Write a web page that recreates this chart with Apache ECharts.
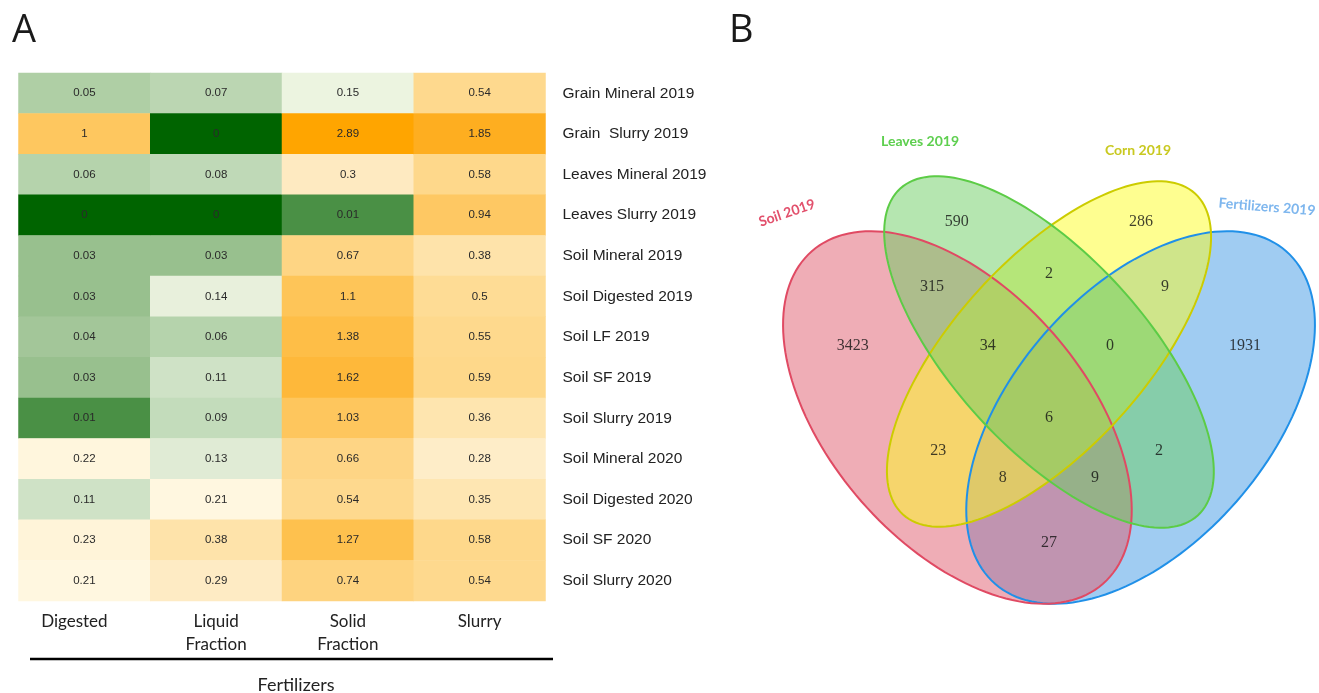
<!DOCTYPE html>
<html>
<head>
<meta charset="utf-8">
<script src="https://cdn.jsdelivr.net/npm/echarts@6/dist/echarts.min.js"></script>
<style>
  html, body { margin: 0; padding: 0; background: #fff; }
  #chart { width: 1319px; height: 693px; }
</style>
</head>
<body>
<div id="chart"></div>
<script>
// ---- Panel A: heatmap data ----
const samples = [
  'Grain Mineral 2019', 'Grain  Slurry 2019', 'Leaves Mineral 2019', 'Leaves Slurry 2019',
  'Soil Mineral 2019', 'Soil Digested 2019', 'Soil LF 2019', 'Soil SF 2019', 'Soil Slurry 2019',
  'Soil Mineral 2020', 'Soil Digested 2020', 'Soil SF 2020', 'Soil Slurry 2020'
];
const fertilizers = ['Digested', 'Liquid\nFraction', 'Solid\nFraction', 'Slurry'];
const digested       = [0.05, 1, 0.06, 0, 0.03, 0.03, 0.04, 0.03, 0.01, 0.22, 0.11, 0.23, 0.21];
const liquidFraction = [0.07, 0, 0.08, 0, 0.03, 0.14, 0.06, 0.11, 0.09, 0.13, 0.21, 0.38, 0.29];
const solidFraction  = [0.15, 2.89, 0.3, 0.01, 0.67, 1.1, 1.38, 1.62, 1.03, 0.66, 0.54, 1.27, 0.74];
const slurry         = [0.54, 1.85, 0.58, 0.94, 0.38, 0.5, 0.55, 0.59, 0.36, 0.28, 0.35, 0.58, 0.54];

// ---- Panel B: Venn data ----
const vennSets = ['Soil 2019', 'Leaves 2019', 'Corn 2019', 'Fertilizers 2019'];
// region counts, in the same order as vennLabelAt below
const vennCounts = [590, 286, 315, 2, 9, 3423, 34, 0, 1931, 6, 23, 2, 8, 9, 27];

// ---- colour scale (value stops -> colours), green (low) to orange (high) ----
const scaleStops  = [0, 0.01, 0.03, 0.04, 0.05, 0.07, 0.09, 0.11, 0.14, 0.15, 0.21, 0.29, 0.37, 0.54, 0.59, 0.67, 0.74, 0.94, 1.1, 1.38, 1.62, 1.85, 2.89];
const scaleColors = ['#006400', '#4a9045', '#98c08e', '#a3c699', '#afcfa5', '#bbd6b2', '#c3dcbb', '#cfe2c6', '#e8f0dc', '#ecf4e0', '#fff7e0', '#feebc4', '#fee4ac', '#fed98e', '#fed88a', '#fed584', '#fed37f', '#fec863', '#fec558', '#febe47', '#feb83a', '#feae20', '#ffa500'];

function scalePos(v) {
  for (let i = 0; i < scaleStops.length - 1; i++) {
    if (v <= scaleStops[i + 1]) {
      return i + (v - scaleStops[i]) / (scaleStops[i + 1] - scaleStops[i]);
    }
  }
  return scaleStops.length - 1;
}

const columns = [digested, liquidFraction, solidFraction, slurry];
const heatData = [];
columns.forEach((col, x) => {
  col.forEach((v, y) => heatData.push([x, y, v, scalePos(v)]));
});

// ---- Venn layout (unit frame, y up) ----
// ellipse: centre, semi-axes and tilt of the major axis in degrees
const vennShapes = {
  'Soil 2019':        { cx: -0.916, cy: -0.275, a: 2.21, b: 1.275, tilt: -48.8, fill: 'rgba(223,91,109,0.5)',  line: '#e04a63' },
  'Leaves 2019':      { cx: 0,      cy: 0.38,   a: 2.21, b: 0.96,  tilt: -47.7, fill: 'rgba(107,205,97,0.5)',  line: '#5ccc46' },
  'Corn 2019':        { cx: 0,      cy: 0.36,   a: 2.17, b: 0.95,  tilt: 47.7,  fill: 'rgba(253,253,33,0.5)',  line: '#cccc00' },
  'Fertilizers 2019': { cx: 0.916,  cy: -0.275, a: 2.21, b: 1.275, tilt: 48.8,  fill: 'rgba(65,153,229,0.5)',  line: '#2090e8' }
};
// painting order of the fills
const fillOrder = ['Fertilizers 2019', 'Soil 2019', 'Corn 2019', 'Leaves 2019'];
const vennLabelAt = [
  [-0.923, 1.683], [0.92, 1.683], [-1.17, 1.033], [0, 1.16], [1.16, 1.033],
  [-1.963, 0.44], [-0.613, 0.44], [0.61, 0.44], [1.96, 0.44],
  [0, -0.28], [-1.107, -0.607], [1.10, -0.607], [-0.463, -0.873], [0.46, -0.873], [0, -1.527]
];
const vennLabelData = vennCounts.map((c, i) => [vennLabelAt[i][0], vennLabelAt[i][1], c]);

function ellipsePoints(s, api) {
  const pts = [];
  const phi = s.tilt * Math.PI / 180;
  const n = 160;
  for (let k = 0; k < n; k++) {
    const t = 2 * Math.PI * k / n;
    const ex = s.a * Math.cos(t), ey = s.b * Math.sin(t);
    pts.push(api.coord([
      s.cx + ex * Math.cos(phi) - ey * Math.sin(phi),
      s.cy + ex * Math.sin(phi) + ey * Math.cos(phi)
    ]));
  }
  return pts;
}

function vennRender(mode) {
  return function (params, api) {
    const name = fillOrder[api.value(0)];
    const s = vennShapes[name];
    return {
      type: 'polygon',
      shape: { points: ellipsePoints(s, api) },
      style: mode === 'fill'
        ? { fill: s.fill, stroke: null }
        : { fill: 'none', stroke: s.line, lineWidth: 2 }
    };
  };
}

const chart = echarts.init(document.getElementById('chart'), null, { renderer: 'canvas' });

const xLabelFont = { fontFamily: 'Lato', fontSize: 17, color: '#222', lineHeight: 23 };

chart.setOption({
  animation: false,
  backgroundColor: '#ffffff',
  grid: [
    { left: 18.5, top: 73, width: 527, height: 528 },
    { left: 749, top: 150, width: 570, height: 500 }
  ],
  xAxis: [
    {
      type: 'category', gridIndex: 0, data: fertilizers, position: 'bottom',
      axisLine: { show: false }, axisTick: { show: false }, splitLine: { show: false },
      axisLabel: Object.assign({
        margin: 9, interval: 0, hideOverlap: false,
        // the first label sits a little left of its column centre
        formatter: (v, i) => i === 0 ? '{first|' + v + '}' : v,
        rich: { first: Object.assign({ padding: [0, 20, 0, 0] }, xLabelFont) }
      }, xLabelFont)
    },
    { type: 'value', gridIndex: 1, min: -3, max: 2.7, show: false }
  ],
  yAxis: [
    {
      type: 'category', gridIndex: 0, data: samples, inverse: true, position: 'right',
      axisLine: { show: false }, axisTick: { show: false }, splitLine: { show: false },
      axisLabel: { interval: 0, fontFamily: 'Liberation Sans', fontSize: 15.5, color: '#222', margin: 17, padding: [3, 0, 0, 0] }
    },
    { type: 'value', gridIndex: 1, min: -2.6, max: 2.4, show: false }
  ],
  visualMap: {
    show: false, type: 'continuous', seriesIndex: 0, dimension: 3,
    min: 0, max: scaleStops.length - 1,
    inRange: { color: scaleColors }
  },
  series: [
    {
      type: 'heatmap', xAxisIndex: 0, yAxisIndex: 0, data: heatData,
      label: {
        show: true, fontFamily: 'Liberation Sans', fontSize: 11.5, color: '#2a2a2a',
        formatter: p => String(p.value[2])
      },
      itemStyle: { borderWidth: 0 },
      emphasis: { disabled: true }
    },
    {
      type: 'custom', xAxisIndex: 1, yAxisIndex: 1, z: 2,
      data: fillOrder.map((_, i) => [i]),
      renderItem: vennRender('fill'), silent: true
    },
    {
      type: 'custom', xAxisIndex: 1, yAxisIndex: 1, z: 3,
      data: fillOrder.map((_, i) => [i]),
      renderItem: vennRender('line'), silent: true
    },
    {
      type: 'scatter', xAxisIndex: 1, yAxisIndex: 1, z: 4,
      symbolSize: 0, data: vennLabelData, silent: true,
      label: {
        show: true, position: 'inside', fontFamily: 'Liberation Serif', fontSize: 16, color: '#111',
        formatter: p => String(p.value[2])
      }
    }
  ],
  graphic: [
    { type: 'text', left: 12, top: 12, style: { text: 'A', font: '38px "Open Sans"', fill: '#1a1a1a' } },
    { type: 'text', left: 729, top: 12, style: { text: 'B', font: '38px "Open Sans"', fill: '#1a1a1a' } },
    { type: 'line', shape: { x1: 30, y1: 659, x2: 553, y2: 659 }, style: { stroke: '#000', lineWidth: 2.5 } },
    { type: 'text', x: 296, y: 685, style: { text: 'Fertilizers', font: '18px Lato', fill: '#222', align: 'center', verticalAlign: 'middle' } },
    { type: 'text', x: 787, y: 213, rotation: 0.33, style: { text: vennSets[0], font: 'bold 14px Lato', fill: '#e2506c', align: 'center', verticalAlign: 'middle' } },
    { type: 'text', x: 920, y: 141.5, style: { text: vennSets[1], font: 'bold 14px Lato', fill: '#5ecf4f', align: 'center', verticalAlign: 'middle' } },
    { type: 'text', x: 1138, y: 150, style: { text: vennSets[2], font: 'bold 14px Lato', fill: '#c9c920', align: 'center', verticalAlign: 'middle' } },
    { type: 'text', x: 1267, y: 207, rotation: -0.08, style: { text: vennSets[3], font: 'bold 14px Lato', fill: '#7db6ee', align: 'center', verticalAlign: 'middle' } }
  ]
});
</script>
</body>
</html>
